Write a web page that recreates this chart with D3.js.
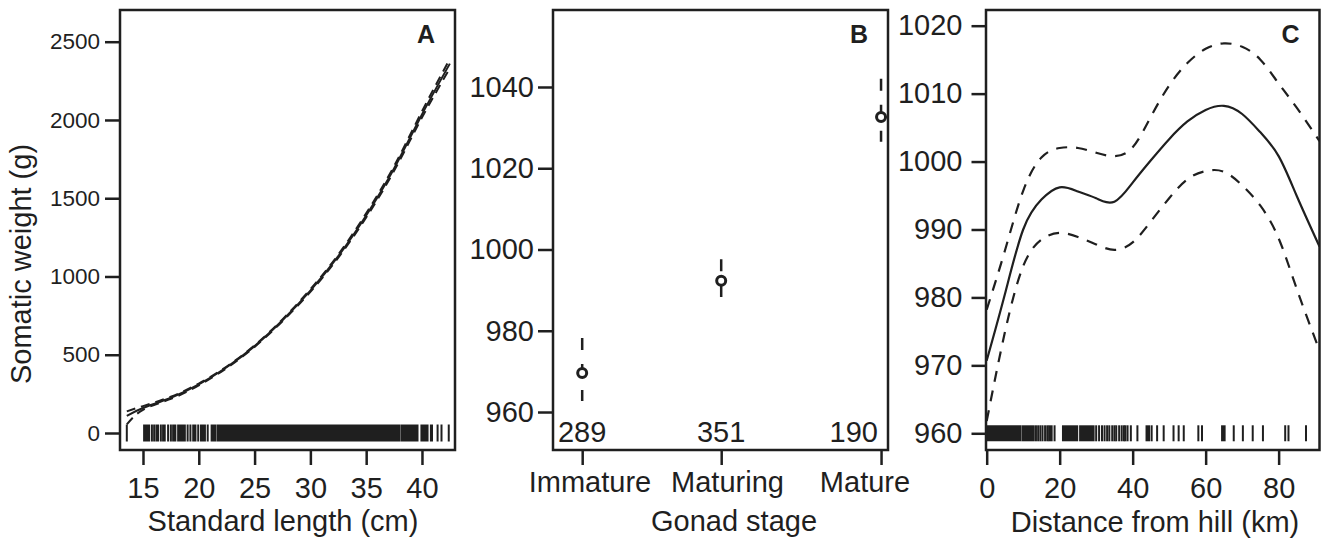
<!DOCTYPE html>
<html>
<head>
<meta charset="utf-8">
<script src="https://cdn.jsdelivr.net/npm/d3@7"></script>
<style>
  body { margin: 0; background: #fff; }
  text { font-family: "Liberation Sans", Arial, sans-serif; }
</style>
</head>
<body>
<svg id="chart" width="1321" height="539"></svg>
<script>
// Panel A - somatic weight against standard length
const lengthCm    = [13.55, 15, 17.5, 20, 22.5, 25, 27.5, 30, 32.5, 35, 37.5, 40, 42.5];
const weightFit   = [110, 160, 225, 310, 420, 555, 720, 910, 1130, 1390, 1690, 2035, 2360];
const weightUpper = [138, 172, 232, 316, 425, 560, 726, 918, 1140, 1403, 1705, 2055, 2390];
const weightLower = [55, 148, 218, 304, 415, 550, 714, 902, 1120, 1377, 1675, 2015, 2330];
const weightTicks = [0, 500, 1000, 1500, 2000, 2500];
const lengthTicks = [15, 20, 25, 30, 35, 40];
// rug of observed lengths, as [from, to] runs in cm
const lengthRug = [[13.55, 13.55], [15.1, 15.55], [15.8, 15.8], [16.0, 16.0], [16.2, 16.35], [16.6, 16.6],
  [16.8, 16.95], [17.25, 17.25], [17.5, 17.5], [17.7, 17.9], [18.15, 18.75], [19.0, 19.0], [19.25, 19.25],
  [19.5, 19.7], [19.95, 19.95], [20.2, 20.55], [20.8, 20.8], [21.15, 21.5], [21.7, 38.0], [38.2, 39.6],
  [39.95, 40.5], [40.8, 40.9], [41.4, 41.4], [41.75, 41.75], [42.4, 42.4]];

// Panel B - gonad stage
const stages     = ["Immature", "Maturing", "Mature"];
const stageX     = [1, 2, 3.15];
const stageMean  = [969.6, 992.3, 1032.6];
const stageUpper = [978.2, 997.6, 1042.0];
const stageLower = [962.7, 988.3, 1026.5];
const stageN     = [289, 351, 190];
const stageTicks = [960, 980, 1000, 1020, 1040];

// Panel C - distance from hill
const distKm    = [0, 5, 10, 15, 20, 25, 30, 35, 40, 45, 50, 55, 60, 65, 70, 75, 80, 85, 91.2];
const distFit   = [970.7, 980.5, 990.0, 994.4, 996.2, 995.6, 994.6, 994.1, 996.9, 1000.2, 1003.3, 1005.9,
                   1007.6, 1008.2, 1007.0, 1004.3, 1000.8, 994.9, 987.5];
const distUpper = [978.2, 986.9, 995.7, 1000.6, 1002.0, 1002.0, 1001.3, 1000.8, 1002.1, 1006.6, 1011.2,
                   1014.5, 1016.6, 1017.4, 1016.9, 1015.0, 1011.5, 1007.9, 1003.0];
const distLower = [961.8, 974.9, 984.6, 988.5, 989.5, 988.9, 987.8, 987.0, 988.1, 991.2, 994.6, 997.4,
                   998.6, 998.5, 996.5, 993.5, 988.7, 981.2, 972.2];
const distYTicks = [960, 970, 980, 990, 1000, 1010, 1020];
const distXTicks = [0, 20, 40, 60, 80];
const distRug = [[0.1, 9.2], [9.8, 12.9], [13.5, 13.5], [14.1, 14.1], [14.7, 14.7], [15.3, 15.3], [16.0, 16.0],
  [16.6, 16.6], [17.1, 17.8], [18.6, 18.6], [20.9, 24.8], [25.6, 29.3], [30.0, 30.0], [30.8, 30.8],
  [31.6, 31.6], [32.3, 32.3], [33.0, 33.0], [33.6, 33.6], [34.4, 34.4], [35.0, 35.0], [35.5, 35.5],
  [36.3, 36.3], [37.0, 37.0], [37.6, 37.6], [38.0, 38.0], [38.6, 38.6], [39.5, 39.5], [41.3, 41.3],
  [43.8, 44.5], [45.2, 45.2], [46.7, 46.7], [48.5, 48.5], [51.2, 51.2], [52.6, 52.6], [54.0, 54.0],
  [58.0, 58.0], [59.0, 59.0], [64.5, 65.2], [67.7, 67.7], [70.2, 70.2], [72.9, 72.9], [75.7, 75.7],
  [81.8, 81.8], [82.7, 82.7], [87.5, 87.5]];

const ink = "#1f1f1f";
const fontSize = 29;
const svg = d3.select("#chart");
const plotTop = 10, plotBottom = 450;
const intFmt = d3.format("d");

function frame(id, left, right) {
  svg.append("clipPath").attr("id", id)
    .append("rect").attr("x", left).attr("y", plotTop).attr("width", right - left).attr("height", plotBottom - plotTop);
  return svg.append("g").attr("clip-path", `url(#${id})`);
}

function box(left, right) {
  svg.append("rect")
    .attr("x", left).attr("y", plotTop).attr("width", right - left).attr("height", plotBottom - plotTop)
    .attr("fill", "none").attr("stroke", ink).attr("stroke-width", 2.5);
}

function styleAxis(g, size) {
  g.select(".domain").remove();
  g.selectAll("line").attr("stroke", ink).attr("stroke-width", 2.5);
  g.selectAll("text").attr("font-size", size).attr("fill", ink)
    .attr("font-family", "Liberation Sans, Arial, sans-serif");
}

function label(x, y, txt, opts = {}) {
  return svg.append("text").attr("x", x).attr("y", y)
    .attr("text-anchor", opts.anchor || "middle")
    .attr("font-size", opts.size || fontSize)
    .attr("font-weight", opts.bold ? "bold" : "normal")
    .attr("fill", ink).text(txt);
}

function drawRug(g, runs, x, yc, half) {
  g.selectAll(null).data(runs).enter().append("line")
    .attr("x1", d => (x(d[0]) + x(d[1])) / 2)
    .attr("x2", d => (x(d[0]) + x(d[1])) / 2)
    .attr("y1", yc - half).attr("y2", yc + half)
    .attr("stroke", ink)
    .attr("stroke-width", d => Math.max(2, x(d[1]) - x(d[0]) + 2));
}

// ---------- A ----------
const aL = 120, aR = 455;
const xA = d3.scaleLinear().domain([12.94, 42.96]).range([aL, aR]);
const yA = d3.scaleLinear().domain([-108.6, 2702.6]).range([plotBottom, plotTop]);
const gA = frame("clipA", aL, aR);

const lineA = vals => d3.line().curve(d3.curveNatural)
  .x((d, i) => xA(lengthCm[i])).y(d => yA(d))(vals);

gA.append("path").attr("d", lineA(weightUpper)).attr("fill", "none")
  .attr("stroke", ink).attr("stroke-width", 2).attr("stroke-dasharray", "9,6");
gA.append("path").attr("d", lineA(weightLower)).attr("fill", "none")
  .attr("stroke", ink).attr("stroke-width", 2).attr("stroke-dasharray", "9,6");
gA.append("path").attr("d", lineA(weightFit)).attr("fill", "none")
  .attr("stroke", ink).attr("stroke-width", 2);
drawRug(gA, lengthRug, xA, yA(0), 8.5);
box(aL, aR);

svg.append("g").attr("transform", `translate(${aL},0)`)
  .call(d3.axisLeft(yA).tickValues(weightTicks).tickFormat(intFmt).tickSize(15).tickPadding(5))
  .call(g => styleAxis(g, 22.5));
svg.append("g").attr("transform", `translate(0,${plotBottom + 1})`)
  .call(d3.axisBottom(xA).tickValues(lengthTicks).tickSize(14).tickPadding(12))
  .call(g => styleAxis(g, fontSize));

label(283, 531, "Standard length (cm)");
label(0, 0, "Somatic weight (g)").attr("transform", "translate(31,264) rotate(-90)");
label(aR - 20, 43, "A", { anchor: "end", bold: true, size: 25 });

// ---------- B ----------
const bL = 553, bR = 888;
const xB = d3.scaleLinear().domain([0.79, 3.2]).range([bL, bR]);
const yB = d3.scaleLinear().domain([950.65, 1058.95]).range([plotBottom, plotTop]);
// stage names sit evenly spaced under the plot, not exactly under their ticks
const xBname = d3.scalePoint().domain(stages).range([590, 865]);
const gB = frame("clipB", bL, bR);

gB.selectAll(null).data(stages).enter().append("line")
  .attr("x1", (d, i) => xB(stageX[i])).attr("x2", (d, i) => xB(stageX[i]))
  .attr("y1", (d, i) => yB(stageUpper[i])).attr("y2", (d, i) => yB(stageLower[i]))
  .attr("stroke", ink).attr("stroke-width", 2.5).attr("stroke-dasharray", "12,14");
gB.selectAll(null).data(stages).enter().append("circle")
  .attr("cx", (d, i) => xB(stageX[i])).attr("cy", (d, i) => yB(stageMean[i]))
  .attr("r", 4.5).attr("fill", "#fff").attr("stroke", ink).attr("stroke-width", 3);
box(bL, bR);

stageN.forEach((n, i) => {
  const t = label(xB(stageX[i]), 441.5, n);
  const w = t.node().getComputedTextLength();
  if (xB(stageX[i]) + w / 2 > bR - 10) t.attr("x", bR - 10 - w / 2);
});

svg.append("g").attr("transform", `translate(${bL},0)`)
  .call(d3.axisLeft(yB).tickValues(stageTicks).tickFormat(intFmt).tickSize(15).tickPadding(4))
  .call(g => styleAxis(g, fontSize));
svg.append("g").attr("transform", `translate(0,${plotBottom + 1})`)
  .call(d3.axisBottom(xB).tickValues(stageX).tickFormat(() => "").tickSize(14))
  .call(g => styleAxis(g, fontSize));
stages.forEach(s => label(xBname(s), 492, s));

label(734, 531, "Gonad stage");
label(bR - 20, 43, "B", { anchor: "end", bold: true, size: 25 });

// ---------- C ----------
const cL = 986, cR = 1319.5;
const xC = d3.scaleLinear().domain([-0.19, 91.2]).range([cL, cR]);
const yC = d3.scaleLinear().domain([957.54, 1022.31]).range([plotBottom, plotTop]);
const gC = frame("clipC", cL, cR);

const lineC = vals => d3.line().curve(d3.curveNatural)
  .x((d, i) => xC(distKm[i])).y(d => yC(d))(vals);

gC.append("path").attr("d", lineC(distUpper)).attr("fill", "none")
  .attr("stroke", ink).attr("stroke-width", 2.2).attr("stroke-dasharray", "11,9");
gC.append("path").attr("d", lineC(distLower)).attr("fill", "none")
  .attr("stroke", ink).attr("stroke-width", 2.2).attr("stroke-dasharray", "11,9");
gC.append("path").attr("d", lineC(distFit)).attr("fill", "none")
  .attr("stroke", ink).attr("stroke-width", 2.2);
drawRug(gC, distRug, xC, yC(960), 8);
box(cL, cR);

svg.append("g").attr("transform", `translate(${cL},0)`)
  .call(d3.axisLeft(yC).tickValues(distYTicks).tickFormat(intFmt).tickSize(14.5).tickPadding(9))
  .call(g => styleAxis(g, fontSize));
svg.append("g").attr("transform", `translate(0,${plotBottom + 1})`)
  .call(d3.axisBottom(xC).tickValues(distXTicks).tickSize(14).tickPadding(12))
  .call(g => styleAxis(g, fontSize));

label(1155, 532, "Distance from hill (km)");
label(cR - 20, 43, "C", { anchor: "end", bold: true, size: 25 });
</script>
</body>
</html>
